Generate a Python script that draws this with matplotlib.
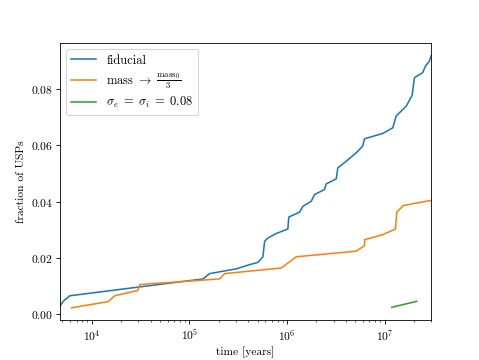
import matplotlib
matplotlib.use("Agg")
import matplotlib.pyplot as plt

plt.rcParams['font.family'] = 'serif'
plt.rcParams['font.serif'] = ['cmr10']
plt.rcParams['mathtext.fontset'] = 'cm'
plt.rcParams['axes.formatter.use_mathtext'] = True
plt.rcParams['font.size'] = 11

# fiducial run
t_fid = [4705, 5080, 5957, 137700, 161400, 302700, 414000, 503600, 566600, 590000,
         637000, 776000, 1.02e6, 1.045e6, 1.345e6, 1.455e6, 1.773e6, 1.916e6, 2.425e6,
         2.523e6, 3.197e6, 3.32e6, 4.05e6, 5.12e6, 5.98e6, 6.23e6, 9.59e6, 1.214e7,
         1.315e7, 1.664e7, 1.918e7, 2.024e7, 2.461e7, 2.624e7, 2.88e7, 3.0e7]
f_fid = [0.0026, 0.0044, 0.0064, 0.0124, 0.0143, 0.0160, 0.0175, 0.0183, 0.0203, 0.0258,
         0.0270, 0.0286, 0.0302, 0.0345, 0.0362, 0.0383, 0.0401, 0.0425, 0.0443,
         0.0463, 0.0481, 0.0520, 0.0544, 0.0574, 0.0598, 0.0624, 0.0643, 0.0663,
         0.0705, 0.0740, 0.0779, 0.0842, 0.0860, 0.0883, 0.0901, 0.0920]

# mass -> mass0/3
t_mass = [6200, 14690, 17180, 29750, 30980, 204000, 229600, 874000, 1.245e6,
          5.12e6, 6.23e6, 6.25e6, 9.59e6, 1.294e7, 1.335e7, 1.56e7, 3.0e7]
f_mass = [0.0021, 0.0043, 0.0064, 0.0083, 0.0104, 0.0124, 0.0143, 0.0163, 0.0203,
          0.0223, 0.0243, 0.0264, 0.0282, 0.0302, 0.0362, 0.0386, 0.0404]

# sigma_e = sigma_i = 0.08
t_sig = [1.186e7, 2.14e7]
f_sig = [0.0023, 0.0044]

fig, ax = plt.subplots(figsize=(479 / 75, 4.8), dpi=75)
ax.plot(t_fid, f_fid, label='fiducial')
ax.plot(t_mass, f_mass, label=r'mass $\rightarrow\;\frac{\mathrm{mass}_0}{3}$')
ax.plot(t_sig, f_sig, label=r'$\sigma_e\;=\;\sigma_i\;=\;0.08$')
ax.set_xscale('log')
ax.set_xlim(min(t_fid), max(t_fid))
ax.set_xlabel('time [years]')
ax.set_ylabel('fraction of USPs')
ax.legend(loc='upper left', fontsize=12, labelspacing=0.35)

fig.savefig('out.png')
